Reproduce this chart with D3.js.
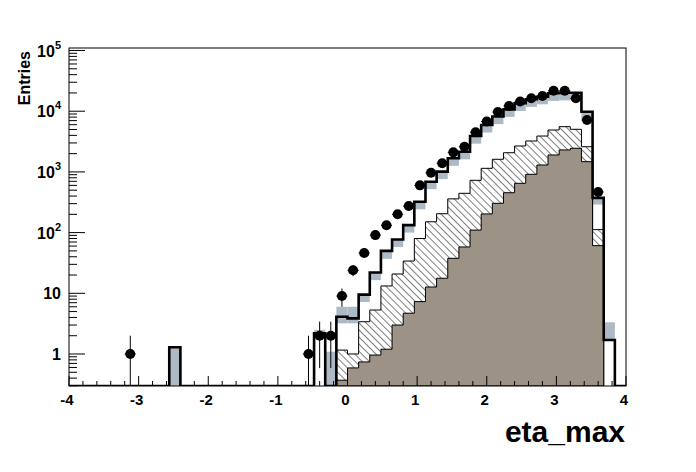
<!DOCTYPE html>
<html><head><meta charset="utf-8">
<script src="https://cdn.jsdelivr.net/npm/d3@7"></script>
<style>
body{margin:0;background:#fff}
text{font-family:"Liberation Sans",Arial,Helvetica,sans-serif;font-weight:bold;fill:#000}
</style>
</head><body>
<svg id="chart" width="696" height="472"></svg>
<script>
// ---------- DATA (50 bins in eta_max from -4 to 4) ----------
const binEdges = [-4,-3.84,-3.68,-3.52,-3.36,-3.2,-3.04,-2.88,-2.72,-2.56,-2.4,-2.24,-2.08,-1.92,-1.76,-1.6,-1.44,-1.28,-1.12,-0.96,-0.8,-0.64,-0.48,-0.32,-0.16,0,0.16,0.32,0.48,0.64,0.8,0.96,1.12,1.28,1.44,1.6,1.76,1.92,2.08,2.24,2.4,2.56,2.72,2.88,3.04,3.2,3.36,3.52,3.68,3.84,4];
// data (black points), 0 = no entry
const dataVals = [0,0,0,0,0,1,0,0,0,0, 0,0,0,0,0,0,0,0,0,0, 0,1,2,2,9,24,46,91,132,200, 274,600,970,1390,2100,2600,4500,6760,9700,12200, 14500,16300,17800,21700,21700,16300,7160,467,0,0];
// total MC (thick black line)
const totalMC = [0,0,0,0,0,0,0,0,0,1.29, 0,0,0,0,0,0,0,0,0,0, 0,0,2.19,0,4.1,3.87,9.5,22,50,77, 133,323,690,1010,1675,2150,3900,5930,8180,10740, 13490,15700,17330,19720,20180,20180,9810,374,1.7,0];
// grey-blue band: lower / upper edge per bin
const bandLo = [0,0,0,0,0,0,0,0,0,0.01, 0,0,0,0,0,0,0,0,0,0, 0,0,2.19,0.01,3.2,3.2,7.2,16.5,37,58, 100,242,520,760,1260,1610,2920,4450,6130,8050, 10100,11800,13000,14800,15100,15100,7400,290,1.7,0];
const bandHi = [0,0,0,0,0,0,0,0,0,1.29, 0,0,0,0,0,0,0,0,0,0, 0,0,2.5,1.09,6.0,6.0,9.5,22,50,77, 133,323,690,1010,1675,2150,3900,5930,8180,10740, 13490,15700,17330,19720,20180,20180,9810,374,3.33,0];
// brown component (bottom of stack)
const brownVals = [0,0,0,0,0,0,0,0,0,0, 0,0,0,0,0,0,0,0,0,0, 0,0,0,0,0.37,0.59,0.74,0.96,1.2,3.0, 4.7,7.3,12.7,17.7,37.7,58,110,203,304,454, 649,913,1300,1900,2300,2450,1473,61,0,0];
// hatched component (stacked on top of brown)
const hatchedVals = [0,0,0,0,0,0,0,0,0,0, 0,0,0,0,0,0,0,0,0,0, 0,0,0,0,0.79,0.41,2.66,4.34,12,17.8, 29.3,72.7,138,187,322,386,617,943,1310,1616, 2023,2317,2600,3000,3260,2585,1127,51,0,0];
const xTickVals = [-4,-3,-2,-1,0,1,2,3,4];
const yTickVals = [1,10,100,1000,10000,100000];
const yTickBase = ["1","10","10","10","10","10"];
const yTickExp  = ["","","2","3","4","5"];
const xTitle = "eta_max";
const yTitle = "Entries";

// ---------- LAYOUT ----------
const L = 69, R = 626, T = 48, B = 386;
const yMin = 0.297, yMax = 1.1e5;
const svg = d3.select("#chart");
const x = d3.scaleLinear().domain([-4, 4]).range([L, R]);
const y = d3.scaleLog().domain([yMin, yMax]).range([B, T]);
const yv = v => v > 0 ? y(Math.max(v, yMin)) : B;

const defs = svg.append("defs");
defs.append("clipPath").attr("id","clip").append("rect")
  .attr("x",L).attr("y",T).attr("width",R-L).attr("height",B-T);
const pat = defs.append("pattern").attr("id","hatch").attr("patternUnits","userSpaceOnUse")
  .attr("width",5).attr("height",5).attr("patternTransform","rotate(-45)");
pat.append("rect").attr("width",5).attr("height",5).attr("fill","#fff");
pat.append("line").attr("x1",0).attr("y1",-1).attr("x2",0).attr("y2",6)
  .attr("stroke","#000").attr("stroke-width",1);

const g = svg.append("g").attr("clip-path","url(#clip)");

function stepPath(vals, i0, i1) {
  let p = `M${x(binEdges[i0])},${B}`;
  for (let i = i0; i <= i1; i++) {
    const yy = yv(vals[i]);
    p += `L${x(binEdges[i])},${yy}L${x(binEdges[i+1])},${yy}`;
  }
  p += `L${x(binEdges[i1+1])},${B}Z`;
  return p;
}
const nb = binEdges.length - 1;
const idx = d3.range(nb);

// grey-blue band
g.selectAll("rect.band").data(idx.filter(i => bandHi[i] > 0)).join("rect")
  .attr("class","band")
  .attr("x", i => x(binEdges[i]))
  .attr("width", i => x(binEdges[i+1]) - x(binEdges[i]))
  .attr("y", i => yv(bandHi[i]))
  .attr("height", i => yv(bandLo[i]) - yv(bandHi[i]))
  .attr("fill","#adbac6");

// stack: hatched (top) then brown
const stackTop = idx.map(i => brownVals[i] + hatchedVals[i]);
g.append("path").attr("d", stepPath(stackTop, 24, 47))
  .attr("fill","url(#hatch)").attr("stroke","#000").attr("stroke-width",1);
g.append("path").attr("d", stepPath(brownVals, 24, 47))
  .attr("fill","#9d9286").attr("stroke","#000").attr("stroke-width",1);

// total MC thick line
g.append("path").attr("d", (() => {
  let p = `M${x(binEdges[0])},${B}`;
  for (let i = 0; i < nb; i++) {
    const yy = yv(totalMC[i]);
    p += `L${x(binEdges[i])},${yy}L${x(binEdges[i+1])},${yy}`;
  }
  return p + `L${x(binEdges[nb])},${B}`;
})()).attr("fill","none").attr("stroke","#000").attr("stroke-width",2.6);

// frame
svg.append("rect").attr("x",L).attr("y",T).attr("width",R-L).attr("height",B-T)
  .attr("fill","none").attr("stroke","#000").attr("stroke-width",1);

// x axis ticks
const xMinor = d3.range(-4, 4.001, 0.2).map(v => +v.toFixed(2));
svg.append("g").selectAll("line").data(xMinor).join("line")
  .attr("x1", d => x(d)).attr("x2", d => x(d))
  .attr("y1", B).attr("y2", d => B - (Math.abs(d - Math.round(d)) < 1e-6 ? 10 : 5))
  .attr("stroke","#000").attr("stroke-width",1);
svg.append("g").selectAll("text").data(xTickVals).join("text")
  .attr("x", d => x(d) - 2).attr("y", 405).attr("text-anchor","middle")
  .attr("font-size", 15).text(d => String(d));

// y axis ticks
const yMinor = [];
for (let e = -1; e <= 5; e++) for (let m = 1; m <= 9; m++) {
  const v = m * Math.pow(10, e);
  if (v >= yMin && v <= yMax) yMinor.push({v, major: m === 1});
}
svg.append("g").selectAll("line").data(yMinor).join("line")
  .attr("x1", L).attr("x2", d => L + (d.major ? 16 : 8))
  .attr("y1", d => y(d.v)).attr("y2", d => y(d.v))
  .attr("stroke","#000").attr("stroke-width",1);
const yl = svg.append("g").selectAll("text").data(yTickVals).join("text")
  .attr("x", 61).attr("y", d => y(d) + 6).attr("text-anchor","end").attr("font-size", 16);
yl.each(function(d, i) {
  const t = d3.select(this);
  t.append("tspan").text(yTickBase[i]);
  if (yTickExp[i]) t.append("tspan").attr("dy",-8).attr("font-size",11).text(yTickExp[i]);
});

// titles
svg.append("text").attr("x", 625).attr("y", 442).attr("text-anchor","end")
  .attr("font-size", 30).text(xTitle);
svg.append("text").attr("transform","translate(30,51) rotate(-90)")
  .attr("text-anchor","end").attr("font-size", 16).text(yTitle);

// data points
const pts = idx.filter(i => dataVals[i] > 0);
const gp = svg.append("g").attr("clip-path","url(#clip)");
pts.forEach(i => {
  const v = dataVals[i], e = Math.sqrt(v);
  const cx = x((binEdges[i] + binEdges[i+1]) / 2);
  gp.append("line").attr("x1",cx).attr("x2",cx).attr("y1",yv(v+e)).attr("y2",yv(v-e))
    .attr("stroke","#000").attr("stroke-width",1);
  gp.append("line").attr("x1",x(binEdges[i])).attr("x2",x(binEdges[i+1]))
    .attr("y1",yv(v)).attr("y2",yv(v)).attr("stroke","#000").attr("stroke-width",1);
  gp.append("circle").attr("cx",cx).attr("cy",yv(v)).attr("r",5).attr("fill","#000");
});
</script>
</body></html>
